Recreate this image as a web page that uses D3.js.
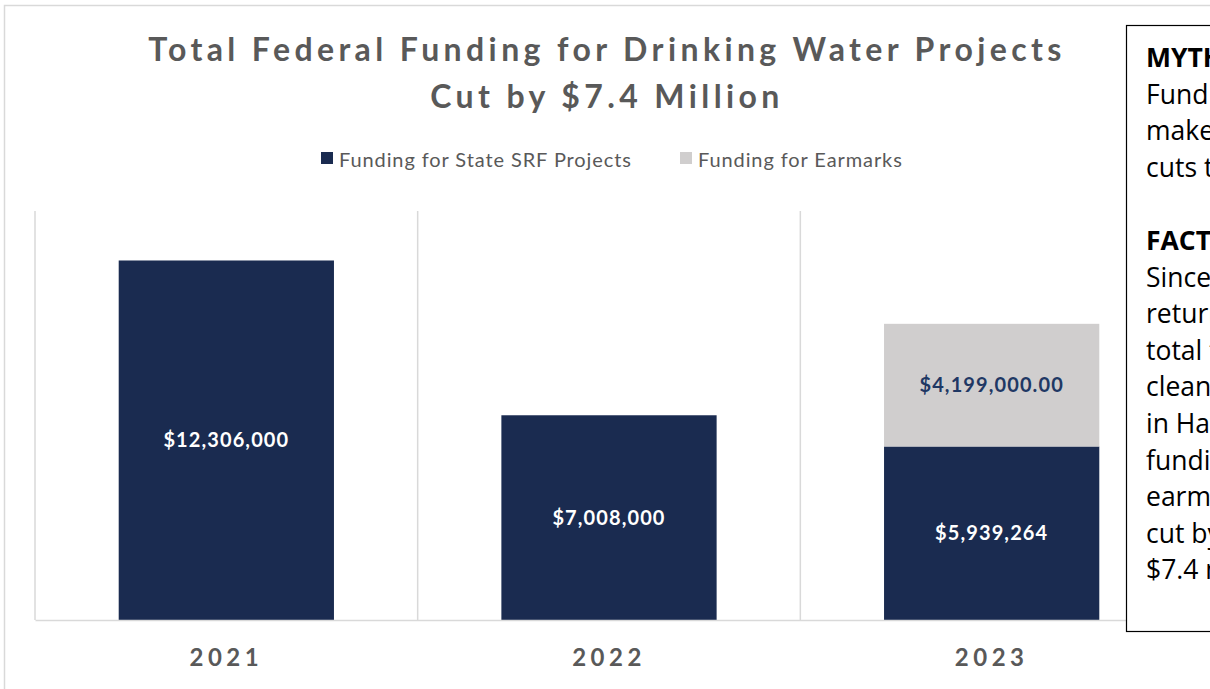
<!DOCTYPE html>
<html>
<head>
<meta charset="utf-8">
<script src="https://cdn.jsdelivr.net/npm/d3@7"></script>
<style>
  html, body { margin: 0; padding: 0; background: #fff; overflow: hidden; }
  svg { display: block; font-family: Lato, "Noto Sans", sans-serif; }
</style>
</head>
<body>
<div id="chart"></div>
<script>
// Datos del gráfico
const years = ["2021", "2022", "2023"];
const srfFunding = [12306000, 7008000, 5939264];
const earmarkFunding = [0, 0, 4199000];
const seriesNames = ["Funding for State SRF Projects", "Funding for Earmarks"];
const titleLines = ["Total Federal Funding for Drinking Water Projects", "Cut by $7.4 Million"];
const noteLines = [
  { t: "MYTH:", b: true },
  { t: "Funding for earmarks", b: false },
  { t: "makes up for the", b: false },
  { t: "cuts to SRF projects.", b: false },
  { t: "", b: false },
  { t: "FACT:", b: true },
  { t: "Since earmarks", b: false },
  { t: "returned in 2022,", b: false },
  { t: "total funding for", b: false },
  { t: "clean drinking water", b: false },
  { t: "in Hawaii, including", b: false },
  { t: "funding for", b: false },
  { t: "earmarks, has been", b: false },
  { t: "cut by", b: false },
  { t: "$7.4 million.", b: false }
];

const W = 1210, H = 689;
const navy = "#1a2b50", grey = "#d0cece", textGrey = "#595959";

const svg = d3.select("#chart").append("svg")
  .attr("width", W)
  .attr("height", H);

// Borde exterior del gráfico
svg.append("rect")
  .attr("x", 4.5).attr("y", 5.5)
  .attr("width", W + 10).attr("height", H + 10)
  .attr("fill", "none")
  .attr("stroke", "#d9d9d9")
  .attr("stroke-width", 1.5);

// Título
svg.append("g").selectAll("text")
  .data(titleLines)
  .join("text")
    .attr("x", 607)
    .attr("y", (d, i) => 61 + i * 47)
    .attr("text-anchor", "middle")
    .attr("fill", textGrey)
    .style("font-size", "32px")
    .style("font-weight", "bold")
    .style("letter-spacing", "4.4px")
    .text(d => d);

// Leyenda
const legend = svg.append("g").selectAll("g")
  .data(seriesNames)
  .join("g")
    .attr("transform", (d, i) => `translate(${i === 0 ? 321 : 680},0)`);

legend.append("rect")
  .attr("y", 152)
  .attr("width", 12).attr("height", 12)
  .attr("fill", (d, i) => i === 0 ? navy : grey);

legend.append("text")
  .attr("x", 18)
  .attr("y", 167)
  .attr("fill", textGrey)
  .style("font-size", "20px")
  .style("letter-spacing", "0.9px")
  .text(d => d);

// Escalas
const plotTop = 211, plotBottom = 620;
const x = d3.scaleBand()
  .domain(years)
  .range([35, 1183])
  .padding(0);

const y = d3.scaleLinear()
  .domain([0, 14000000])
  .range([plotBottom, plotTop]);

const barW = x.bandwidth() * 0.5625;
const barX = d => x(d) + (x.bandwidth() - barW) / 2;

// Líneas de cuadrícula verticales
const bounds = years.map(d => x(d)).concat([x.range()[1]]);
svg.append("g").selectAll("line")
  .data(bounds)
  .join("line")
    .attr("x1", d => d).attr("x2", d => d)
    .attr("y1", plotTop).attr("y2", plotBottom)
    .attr("stroke", "#d9d9d9")
    .attr("stroke-width", 1.5);

// Barras SRF
svg.append("g").selectAll("rect")
  .data(years)
  .join("rect")
    .attr("x", d => barX(d))
    .attr("y", (d, i) => y(srfFunding[i]))
    .attr("width", barW)
    .attr("height", (d, i) => y(0) - y(srfFunding[i]))
    .attr("fill", navy);

// Barras de earmarks (apiladas)
svg.append("g").selectAll("rect")
  .data(years.filter((d, i) => earmarkFunding[i] > 0))
  .join("rect")
    .attr("x", d => barX(d))
    .attr("y", d => { const i = years.indexOf(d); return y(srfFunding[i] + earmarkFunding[i]); })
    .attr("width", barW)
    .attr("height", d => { const i = years.indexOf(d); return y(srfFunding[i]) - y(srfFunding[i] + earmarkFunding[i]); })
    .attr("fill", grey);

// Eje X (línea base)
const xAxis = svg.append("g")
  .attr("transform", `translate(0,${plotBottom})`)
  .call(d3.axisBottom(x).tickSize(0).tickPadding(0));
xAxis.select(".domain").attr("stroke", "#d9d9d9").attr("stroke-width", 1.5);
xAxis.selectAll(".tick text")
  .attr("y", 46)
  .attr("dy", 0)
  .attr("fill", textGrey)
  .style("font-family", "Lato, 'Noto Sans', sans-serif")
  .style("font-size", "24px")
  .style("font-weight", "bold")
  .style("letter-spacing", "4.5px");

// Etiquetas de datos
const fmtSrf = d3.format("$,");
const fmtEar = d3.format("$,.2f");

svg.append("g").selectAll("text")
  .data(years)
  .join("text")
    .attr("x", d => x(d) + x.bandwidth() / 2)
    .attr("y", (d, i) => (y(0) + y(srfFunding[i])) / 2 + 7)
    .attr("text-anchor", "middle")
    .attr("fill", "#fff")
    .style("font-size", "20px")
    .style("font-weight", "bold")
    .style("letter-spacing", "1.1px")
    .text((d, i) => fmtSrf(srfFunding[i]));

svg.append("g").selectAll("text")
  .data(years.filter((d, i) => earmarkFunding[i] > 0))
  .join("text")
    .attr("x", d => x(d) + x.bandwidth() / 2)
    .attr("y", d => { const i = years.indexOf(d); return (y(srfFunding[i]) + y(srfFunding[i] + earmarkFunding[i])) / 2 + 7; })
    .attr("text-anchor", "middle")
    .attr("fill", "#1f3864")
    .style("font-size", "20px")
    .style("font-weight", "bold")
    .style("letter-spacing", "1.1px")
    .text(d => fmtEar(earmarkFunding[years.indexOf(d)]));

// Cuadro de texto (MYTH / FACT)
svg.append("rect")
  .attr("x", 1126.5).attr("y", 25.5)
  .attr("width", 200).attr("height", 606)
  .attr("fill", "#fff")
  .attr("stroke", "#000")
  .attr("stroke-width", 1.2);

svg.append("g").selectAll("text")
  .data(noteLines)
  .join("text")
    .attr("x", 1146)
    .attr("y", (d, i) => 67 + i * 36.6)
    .attr("fill", "#000")
    .style("font-family", "'Open Sans', 'Noto Sans', sans-serif")
    .style("font-size", "26.5px")
    .style("font-weight", d => d.b ? "bold" : "normal")
    .text(d => d.t);
</script>
</body>
</html>
